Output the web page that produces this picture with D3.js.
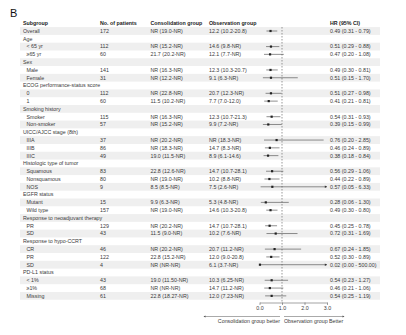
<!DOCTYPE html>
<html><head><meta charset="utf-8">
<script src="https://cdn.jsdelivr.net/npm/d3@7"></script>
<style>body{margin:0;background:#fff}svg{display:block}</style>
</head><body>
<svg id="c" width="406" height="335"></svg>
<script>
const subgroups = ["Overall","Age","< 65 yr","≥65 yr","Sex","Male","Female","ECOG performance-status score","0","1","Smoking history","Smoker","Non-smoker","UICC/AJCC stage (8th)","IIIA","IIIB","IIIC","Histologic type of tumor","Squamous","Nonsquamous","NOS","EGFR status","Mutant","Wild type","Response to neoadjuvant therapy","PR","SD","Response to hypo-CCRT","CR","PR","SD","PD-L1 status","< 1%","≥1%","Missing"];
const isHeader = [false,true,false,false,true,false,false,true,false,false,true,false,false,true,false,false,false,true,false,false,false,true,false,false,true,false,false,true,false,false,false,true,false,false,false];
const patients = ["172","","112","60","","141","31","","112","60","","115","57","","37","86","49","","83","80","9","","15","157","","129","43","","46","122","4","","43","68","61"];
const consolidation = ["NR (19.0-NR)","","NR (15.2-NR)","21.7 (20.2-NR)","","NR (16.3-NR)","NR (12.2-NR)","","NR (22.8-NR)","11.5 (10.2-NR)","","NR (16.3-NR)","NR (15.2-NR)","","NR (20.2-NR)","NR (18.3-NR)","19.0 (11.5-NR)","","22.8 (12.6-NR)","NR (19.0-NR)","8.5 (8.5-NR)","","9.9 (6.3-NR)","NR (19.0-NR)","","NR (20.2-NR)","11.5 (9.0-NR)","","NR (20.2-NR)","22.8 (15.2-NR)","NR (NR-NR)","","19.0 (11.50-NR)","NR (NR-NR)","22.8 (18.27-NR)"];
const observation = ["12.2 (10.2-20.8)","","14.6 (9.8-NR)","12.1 (7.7-NR)","","12.3 (10.3-20.7)","9.1 (6.3-NR)","","20.7 (12.3-NR)","7.7 (7.0-12.0)","","12.3 (10.7-21.3)","9.9 (7.2-NR)","","NR (18.3-NR)","14.7 (8.3-NR)","8.9 (6.1-14.6)","","14.7 (10.7-28.1)","10.2 (8.8-NR)","7.5 (2.6-NR)","","5.3 (4.8-NR)","14.6 (10.3-20.8)","","14.7 (10.7-28.1)","10.2 (7.6-NR)","","20.7 (11.2-NR)","12.0 (9.0-20.8)","6.1 (3.7-NR)","","10.3 (6.25-NR)","14.7 (11.2-NR)","12.0 (7.23-NR)"];
const hr =    [0.49,null,0.51,0.47,null,0.49,0.51,null,0.51,0.41,null,0.54,0.39,null,0.76,0.46,0.38,null,0.56,0.44,0.57,null,0.28,0.49,null,0.45,0.72,null,0.67,0.52,0.02,null,0.54,0.46,0.54];
const lower = [0.31,null,0.29,0.20,null,0.30,0.15,null,0.27,0.21,null,0.31,0.15,null,0.20,0.24,0.18,null,0.29,0.22,0.05,null,0.06,0.30,null,0.25,0.31,null,0.24,0.30,0.00,null,0.23,0.21,0.25];
const upper = [0.79,null,0.88,1.08,null,0.81,1.70,null,0.98,0.81,null,0.93,0.99,null,2.85,0.89,0.84,null,1.06,0.89,6.33,null,1.30,0.80,null,0.78,1.69,null,1.85,0.89,500.00,null,1.27,1.06,1.19];
const hrLabels = ["0.49 (0.31 - 0.79)","","0.51 (0.29 - 0.88)","0.47 (0.20 - 1.08)","","0.49 (0.30 - 0.81)","0.51 (0.15 - 1.70)","","0.51 (0.27 - 0.98)","0.41 (0.21 - 0.81)","","0.54 (0.31 - 0.93)","0.39 (0.15 - 0.99)","","0.76 (0.20 - 2.85)","0.46 (0.24 - 0.89)","0.38 (0.18 - 0.84)","","0.56 (0.29 - 1.06)","0.44 (0.22 - 0.89)","0.57 (0.05 - 6.33)","","0.28 (0.06 - 1.30)","0.49 (0.30 - 0.80)","","0.45 (0.25 - 0.78)","0.72 (0.31 - 1.69)","","0.67 (0.24 - 1.85)","0.52 (0.30 - 0.89)","0.02 (0.00 - 500.00)","","0.54 (0.23 - 1.27)","0.46 (0.21 - 1.06)","0.54 (0.25 - 1.19)"];
const headers = ["Subgroup","No. of patients","Consolidation group","Observation group","HR (95% CI)"];
const xTicks = [0,1,2,3];

const svg = d3.select("#c");
const FONT = "'Liberation Sans', Arial, sans-serif";
const fs = 5.3;
const rowH = 7.79, y0 = 31;
const y = i => y0 + i*rowH;
const colX = [23, 100, 150.5, 209, 330];
const x = d3.scaleLinear().domain([0,3]).range([259.5,327]);
const txt = "#3a3a3a";

// shading
svg.append("g").selectAll("rect").data(subgroups.map((d,i)=>i).filter(i=>i%2===0))
  .join("rect").attr("x",20).attr("width",360).attr("y",i=>y(i)-rowH/2).attr("height",rowH).attr("fill","#efefef");

svg.append("text").attr("x",10).attr("y",17).attr("font-family",FONT).attr("font-size",11).attr("fill","#111").text("B");

// headers
svg.append("g").selectAll("text").data(headers).join("text")
  .attr("x",(d,i)=>colX[i]).attr("y",y(-1)+1.9).attr("font-family",FONT).attr("font-size",fs).attr("font-weight","bold").attr("fill","#222").text(d=>d);

const g = svg.append("g").attr("font-family",FONT).attr("font-size",fs).attr("fill",txt);
subgroups.forEach((s,i)=>{
  const by = y(i)+1.9;
  g.append("text").attr("x", isHeader[i]||i===0 ? colX[0] : colX[0]+3.5).attr("y",by).text(s);
  if(patients[i]) g.append("text").attr("x",colX[1]).attr("y",by).text(patients[i]);
  if(consolidation[i]) g.append("text").attr("x",colX[2]).attr("y",by).text(consolidation[i]);
  if(observation[i]) g.append("text").attr("x",colX[3]).attr("y",by).text(observation[i]);
  if(hrLabels[i]) g.append("text").attr("x",colX[4]).attr("y",by).text(hrLabels[i]);
});

// reference line
const axisY = 302.5;
svg.append("line").attr("x1",x(1)).attr("x2",x(1)).attr("y1",27).attr("y2",axisY)
  .attr("stroke","#555").attr("stroke-width",0.6).attr("stroke-dasharray","1.5,1.5");

// forest marks
const fg = svg.append("g");
hr.forEach((h,i)=>{
  if(h===null) return;
  const cy = y(i);
  const hi = Math.min(upper[i],3);
  fg.append("line").attr("x1",x(lower[i])).attr("x2",x(hi)).attr("y1",cy).attr("y2",cy).attr("stroke","#444").attr("stroke-width",0.6);
  if(upper[i]>3){
    const ax = x(3);
    fg.append("path").attr("d",`M${ax},${cy} l-2.2,-1.3 l0,2.6 z`).attr("fill","#333");
  }
  fg.append("rect").attr("x",x(h)-1.1).attr("y",cy-1.1).attr("width",2.2).attr("height",2.2).attr("fill","#222");
});

// axis
const ax = svg.append("g").attr("transform",`translate(0,${axisY})`)
  .call(d3.axisBottom(x).tickValues(xTicks).tickSize(2.5).tickSizeOuter(0).tickPadding(1.5));
ax.selectAll("path,line").attr("stroke","#444").attr("stroke-width",0.5);
ax.selectAll("text").attr("font-family",FONT).attr("font-size",fs).attr("fill",txt);

// direction labels
const ly = 316.5;
svg.append("line").attr("x1",280).attr("x2",204).attr("y1",ly).attr("y2",ly).attr("stroke","#555").attr("stroke-width",0.5);
svg.append("path").attr("d",`M203.5,${ly} l2,-1 l0,2 z`).attr("fill","#555");
svg.append("line").attr("x1",284).attr("x2",344).attr("y1",ly).attr("y2",ly).attr("stroke","#555").attr("stroke-width",0.5);
svg.append("path").attr("d",`M344.5,${ly} l-2,-1 l0,2 z`).attr("fill","#555");
svg.append("text").attr("x",280).attr("y",322.5).attr("text-anchor","end").attr("font-family",FONT).attr("font-size",fs).attr("fill",txt).text("Consolidation group better");
svg.append("text").attr("x",284).attr("y",322.5).attr("font-family",FONT).attr("font-size",fs).attr("fill",txt).text("Observation group Better");
</script>
</body></html>
